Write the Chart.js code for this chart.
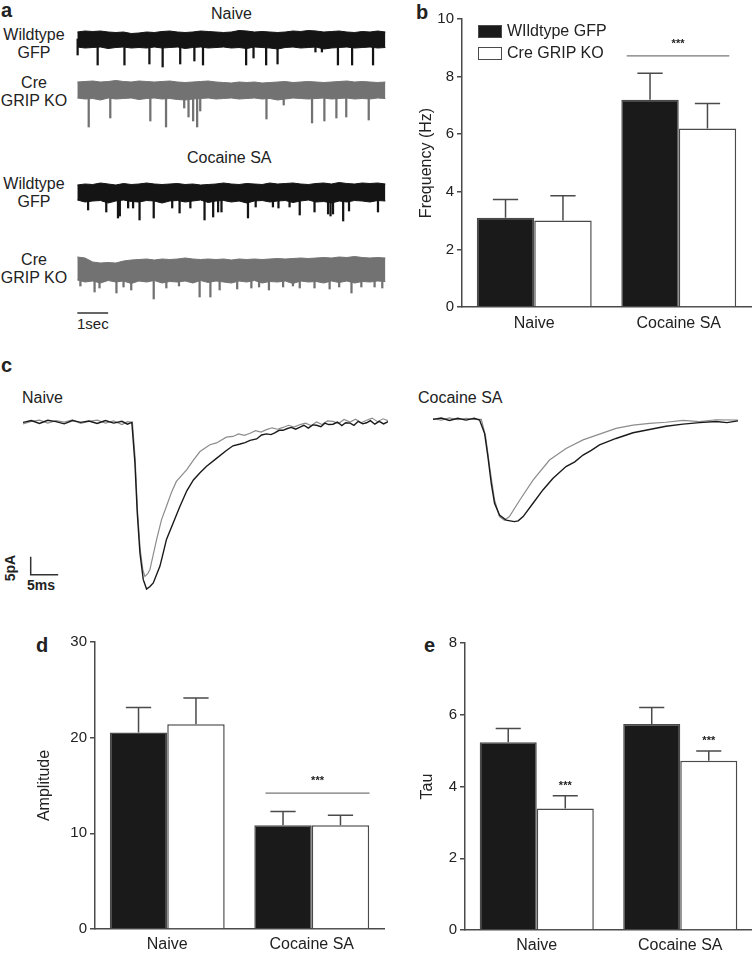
<!DOCTYPE html>
<html lang="en">
<head>
<meta charset="UTF-8">
<title>GRIP KO mEPSC figure</title>
<script src="https://cdn.jsdelivr.net/npm/chart.js"></script>
<style>
body { margin: 0; background: #fff; font-family: 'Liberation Sans', Arial, sans-serif; color: #222; }
#fig { position: relative; width: 752px; height: 953px; background: #fff; overflow: hidden; }
#fig canvas { position: absolute; }
.lbl { position: absolute; font-size: 16px; line-height: 18px; white-space: nowrap; }
.panel { position: absolute; font-size: 20px; font-weight: bold; line-height: 20px; }
.trace-name { position: absolute; left: 0; width: 68px; text-align: center; font-size: 16px; line-height: 18px; }
.key { position: absolute; left: 478px; width: 22px; height: 11px; border: 1.5px solid #4a4a4a; }
</style>
</head>
<body>
<div id="fig">
  <div class="panel" style="left:1px;top:0px">a</div>
  <div class="panel" style="left:416px;top:2px">b</div>
  <div class="panel" style="left:1px;top:355px">c</div>
  <div class="panel" style="left:36px;top:635px">d</div>
  <div class="panel" style="left:424px;top:635px">e</div>

  <!-- panel a -->
  <div class="lbl" style="left:211px;top:5px">Naive</div>
  <div class="lbl" style="left:187px;top:149px">Cocaine SA</div>
  <div class="trace-name" style="top:26px">Wildtype<br>GFP</div>
  <div class="trace-name" style="top:74px">Cre<br>GRIP KO</div>
  <div class="trace-name" style="top:175px">Wildtype<br>GFP</div>
  <div class="trace-name" style="top:251px">Cre<br>GRIP KO</div>
  <div class="lbl" style="left:77px;top:315px;font-size:15px">1sec</div>
  <canvas id="aNaiveWt" width="333" height="55" style="left:65px;top:24px"></canvas>
  <canvas id="aNaiveKo" width="333" height="55" style="left:65px;top:75px"></canvas>
  <canvas id="aCocWt" width="333" height="55" style="left:65px;top:177px"></canvas>
  <canvas id="aCocKo" width="333" height="75" style="left:65px;top:254px"></canvas>

  <!-- panel b -->
  <canvas id="bFreq" width="362" height="340" style="left:390px;top:0px"></canvas>
  <div class="key" style="top:25px;background:#1a1a1a"></div>
  <div class="key" style="top:47px;background:#fff"></div>
  <div class="lbl" style="left:507px;top:22px" id="key1"></div>
  <div class="lbl" style="left:507px;top:44px" id="key2"></div>

  <!-- panel c -->
  <div class="lbl" style="left:22px;top:389px">Naive</div>
  <div class="lbl" style="left:418px;top:389px">Cocaine SA</div>
  <div class="lbl" style="left:-3px;top:559px;font-size:14px;font-weight:bold;transform:rotate(-90deg)">5pA</div>
  <div class="lbl" style="left:27px;top:576px;font-size:14px;font-weight:bold">5ms</div>
  <canvas id="cNaive" width="365" height="194" style="left:23px;top:408px"></canvas>
  <canvas id="cCoc" width="305" height="194" style="left:433px;top:405px"></canvas>

  <!-- panels d, e -->
  <canvas id="dAmp" width="365" height="323" style="left:20px;top:630px"></canvas>
  <canvas id="eTau" width="362" height="323" style="left:390px;top:630px"></canvas>
</div>

<script>
// ---- bar chart data ----
const groups = ['Naive', 'Cocaine SA'];
const seriesNames = ['WIldtype GFP', 'Cre GRIP KO'];

const freqWt = [3.1, 7.2];
const freqWtErr = [0.63, 0.92];
const freqKo = [3.0, 6.2];
const freqKoErr = [0.86, 0.87];

const ampWt = [20.55, 10.85];
const ampWtErr = [2.6, 1.43];
const ampKo = [21.4, 10.85];
const ampKoErr = [2.75, 1.04];

const tauWt = [5.23, 5.74];
const tauWtErr = [0.39, 0.46];
const tauKo = [3.39, 4.72];
const tauKoErr = [0.35, 0.27];

// ---- panel a: raw traces (time in s, current in pA relative to baseline) ----
const bandT = [0,0.25,0.5,0.75,1,1.25,1.5,1.75,2,2.25,2.5,2.75,3,3.25,3.5,3.75,4,4.25,4.5,4.75,5,
               5.25,5.5,5.75,6,6.25,6.5,6.75,7,7.25,7.5,7.75,8,8.25,8.5,8.75,9,9.25,9.5,9.75,10];

const naiveWtTop = [7,8,7.5,8,7,6.5,7,5.5,6,7, 6.5,7.5,8,7,6.5,7,8,7.5,7,6.5, 7,8.5,8,7,7.5,7,6.5,7,8,7.5, 8.5,8,7,7.5,8,7,6.5,7.5,7,8, 7];
const naiveWtBot = [-8,-9,-8.5,-8,-9.5,-8.5,-8,-9,-8.5,-9, -8,-9,-8.5,-8,-9.5,-8.5,-8,-9,-8.5,-8, -9,-8.5,-9.5,-8,-8.5,-9,-10,-8.5,-8,-9, -8.5,-8,-10,-9,-8.5,-8,-9,-8.5,-8,-9, -8.5];
const naiveWtSpikeT = [0.01,0.66,1.53,2.34,2.77,3.34,3.80,4.08,5.48,5.72,6.13,6.50,7.73,7.94,8.46,8.92,9.60];
const naiveWtSpikeD = [-16,-26,-26,-25,-28,-25,-22,-26,-26,-19,-26,-25,-13,-13,-26,-26,-26];

const naiveKoTop = [8,8.5,9,8,8.5,9.5,8.5,8,9,8.5, 8,8.5,9,8,7.5,8,8.5,9,8,7.5, 7,8,7.5,8,7,7.5,8,8.5,7.5,8, 8.5,8,7.5,8,8.5,9,8,8.5,8,7.5, 8];
const naiveKoBot = [-8,-9,-8.5,-10,-8,-9,-8.5,-8,-9.5,-8.5, -8,-9,-8.5,-9.5,-10,-9,-8.5,-8,-9,-8.5, -8,-9,-8.5,-8,-9,-8.5,-10,-9,-8,-8.5, -9,-8.5,-8,-9,-8.5,-8,-9,-8.5,-9,-8, -8.5];
const naiveKoSpikeT = [0.37,1.07,2.37,2.88,3.47,3.61,3.76,3.89,3.99,6.14,6.70,7.62,8.02,8.41,8.73,9.46];
const naiveKoSpikeD = [-37,-28,-31,-37,-18,-27,-31,-37,-21,-29,-15,-33,-31,-28,-27,-30];

const cocWtTop = [7,8,7.5,9,8,7,8.5,7.5,8,9, 8,7.5,8,8.5,7.5,8,7,7.5,8,9, 8,7.5,8.5,8,7.5,9,8,8.5,9,8, 7.5,8.5,9,8,9.5,8.5,8,9,8.5,9, 8];
const cocWtBot = [-8,-10,-9,-8.5,-11,-9,-8,-9.5,-10,-8.5, -9,-11,-9,-8.5,-10,-9,-8,-10.5,-9,-8.5, -10,-9,-11,-9,-8.5,-10,-9,-8.5,-10.5,-9, -8,-10,-9.5,-11,-9,-10,-8.5,-9,-10,-8.5, -9];
const cocWtSpikeT = [0.35,0.94,1.32,1.38,1.65,1.81,2.02,2.48,3.08,3.32,3.67,4.13,4.41,4.57,4.68,5.54,5.79,6.35,6.53,6.89,7.22,7.70,8.14,8.22,8.30,8.63,8.82,9.76];
const cocWtSpikeD = [-18,-20,-26,-24,-16,-16,-28,-26,-16,-21,-16,-28,-25,-20,-20,-26,-15,-15,-16,-15,-23,-20,-22,-24,-22,-29,-19,-20];

const cocKoTop = [12,11,7,6,6.5,6,8,9,9.5,10, 9,10,9.5,10,11,10,9.5,10,9.5,10, 9,10,9.5,10,9.5,10,10.5,10,10.5,11, 10.5,11,11.5,11,12,11.5,12.5,11.5,11,11.5, 11];
const cocKoBot = [-11,-13,-12,-14,-11.5,-13,-12,-14.5,-12,-13, -11.5,-14,-12.5,-13,-12,-14,-11.5,-13.5,-12,-13, -14,-12,-13,-11.5,-14,-12.5,-13,-12,-14.5,-12, -13,-12.5,-14,-12,-13.5,-12,-14,-12.5,-13,-12, -12.5];
const cocKoSpikeT = [0.1,0.56,0.72,1.27,1.5,1.75,2.48,2.89,3.3,3.97,4.32,4.62,5.19,5.65,5.9,6.22,6.68,7.0,7.22,7.70,8.19,8.5,8.90,9.22,9.65,9.9];
const cocKoSpikeD = [-17,-23,-19,-24,-18,-21,-30,-19,-17,-28,-28,-21,-20,-19,-18,-21,-18,-17,-19,-19,-20,-18,-24,-18,-18,-19];

// ---- panel c: averaged events (time in ms, current in pA) ----
const cNaiveWtT = [0,1.5,3,4.5,6,7.5,9,10.5,12,13.5,15,16.5,18,19,19.8,20.36,20.79,21.27,21.88,22.48,
                   23.1,23.7,24.9,25.5,26.1,27.3,28.5,29.8,31.0,32.2,33.4,35.2,37.0,38.2,39.5,40.4,41.3,42.5,43.4,44.3,
                   45.1,45.8,46.6,47.3,48.1,48.8,49.6,50.4,51.1,51.9,52.7,53.4,54.2,54.9,55.6,56.4,57.2,58,58.7,59.5,
                   60.2,61,61.8,62.5,63.2,64,64.8,65.6,66.4];
const cNaiveWtI = [0,0.5,-0.3,0.6,0.2,-0.4,0.5,0,0.4,-0.3,0.5,-0.2,0.3,-0.5,0,-11.3,-25.2,-36.3,-43.7,-46.3,
                   -45.6,-44.6,-40,-36.3,-32.5,-28,-23.5,-19,-16,-14,-12.2,-10,-7.8,-6.5,-6.0,-5.6,-5.0,-4.6,-3.5,-3.2,
                   -3.4,-2.9,-2.2,-2.2,-1.7,-1.4,-1.9,-1.3,-0.8,-1.6,-0.7,-0.8,-1.2,-0.2,-0.6,-0.5,0.1,-0.9,-0.1,-0.2,
                   -0.8,0.3,-0.4,-0.1,0.5,-0.5,0.3,-0.4,0.2];
const cNaiveKoT = [0,1.5,3,4.5,6,7.5,9,10.5,12,13.5,15,16.5,18,19,19.9,20.4,20.8,21.3,21.8,22.18,
                   22.7,23.09,24.3,25.2,26.1,27.0,27.9,29.8,31.0,32.2,34.0,35.2,37.0,38.2,39.2,40.3,41.3,42.3,43.3,44.3,
                   45.3,46.3,47.3,48.3,49.3,50.4,51.4,52.4,53.4,54.4,55.4,56.4,57.4,58.4,59.5,60.5,61.5,62.5,63.5,64.5,
                   65.5,66.4];
const cNaiveKoI = [-0.4,0.3,0.6,-0.2,0.5,0.1,0.7,-0.3,0.3,0.6,-0.2,0.4,-0.6,0.2,0,-10,-24,-35,-41,-42.8,
                   -42,-40.9,-32.6,-27,-23.3,-19.5,-16.4,-13.1,-10.5,-8.1,-6.2,-5.7,-4.1,-3.9,-3.2,-3.6,-3.0,-2.3,-2.7,-2.0,
                   -1.5,-1.9,-1.4,-0.8,-1.3,-0.6,-0.2,-0.9,0.1,-0.6,0.4,0.3,-0.3,0.8,0.1,0.9,-0.1,0.6,1.2,0.2,
                   1.0,0.5];

const cCocWtT = [0,1.5,3,4.5,6,7.5,8.48,9.39,10.0,10.6,11.2,12.1,13.3,14.8,15.5,16.4,18.2,20.0,21.8,24.2,25.8,27.3,28.8,30.3,33.3,36.4,39.4,42.4,45.5,48.5,51.5,53.5,55.5];
const cCocWtI = [0,0.4,-0.3,0.3,-0.2,0.3,-0.2,-3.9,-10.4,-17.8,-23.3,-26.6,-28.0,-28.4,-28.2,-27.0,-23.3,-19.6,-16.4,-13.1,-11.8,-9.9,-8.6,-7.1,-5.3,-3.7,-2.8,-1.9,-1.3,-0.9,-0.6,-0.9,-0.4];
const cCocKoT = [0,1.5,3,4.5,6,7.5,8.79,9.58,10.3,11.2,12.1,13.0,13.9,15.8,18.2,21.2,24.2,27.3,30.3,33.3,36.4,39.4,42.4,45.5,48.5,51.5,55.5];
const cCocKoI = [0.2,-0.2,0.4,-0.1,0.3,0,0,-4.8,-13.1,-22.4,-27.0,-28.0,-27.0,-22.4,-16.9,-11.3,-8.1,-5.7,-4.1,-2.5,-1.6,-1.1,-0.8,-0.3,-0.6,-0.1,-0.2];

// ---- styling ----
const axisColor = '#4a4a4a';
const textColor = '#222';
const fontFamily = "'Liberation Sans', Arial, sans-serif";
Chart.defaults.font.family = fontFamily;
Chart.defaults.color = textColor;

document.getElementById('key1').textContent = seriesNames[0];
document.getElementById('key2').textContent = seriesNames[1];

const quiet = {
    responsive: false,
    animation: false,
    events: [],
    layout: { padding: 0 },
    plugins: { legend: { display: false }, tooltip: { enabled: false } }
};

// scale bar drawn with the chart's own scales
const scaleBarPlugin = {
    id: 'scaleBar',
    afterDatasetsDraw(chart, args, opts) {
        if (!opts || opts.t0 === undefined) return;
        const { ctx, scales: { x, y } } = chart;
        ctx.save();
        ctx.strokeStyle = '#333';
        ctx.lineWidth = 1.5;
        ctx.beginPath();
        ctx.moveTo(x.getPixelForValue(opts.t0), y.getPixelForValue(opts.i0 + (opts.di || 0)));
        ctx.lineTo(x.getPixelForValue(opts.t0), y.getPixelForValue(opts.i0));
        ctx.lineTo(x.getPixelForValue(opts.t0 + opts.dt), y.getPixelForValue(opts.i0));
        ctx.stroke();
        ctx.restore();
    }
};

function traceChart(id, top, bot, spikeT, spikeD, color, yMin, bar) {
    new Chart(document.getElementById(id), {
        type: 'line',
        data: {
            datasets: [
                { data: bandT.map((t, i) => ({ x: t, y: top[i] })), borderColor: color, backgroundColor: color,
                  borderWidth: 1, pointRadius: 0, tension: 0, fill: '+1' },
                { data: bandT.map((t, i) => ({ x: t, y: bot[i] })), borderColor: color,
                  borderWidth: 1, pointRadius: 0, tension: 0, fill: false },
                { type: 'bar', data: spikeT.map((t, i) => ({ x: t, y: [0, spikeD[i]] })),
                  backgroundColor: color, borderWidth: 0, barThickness: 1.6 }
            ]
        },
        options: {
            ...quiet,
            plugins: { ...quiet.plugins, scaleBar: bar || {} },
            scales: {
                x: { type: 'linear', min: -0.4, max: 10.41, display: false, offset: false },
                y: { min: yMin, max: 15, display: false }
            }
        },
        plugins: [scaleBarPlugin]
    });
}

traceChart('aNaiveWt', naiveWtTop, naiveWtBot, naiveWtSpikeT, naiveWtSpikeD, '#141414', -40);
traceChart('aNaiveKo', naiveKoTop, naiveKoBot, naiveKoSpikeT, naiveKoSpikeD, '#727272', -40);
traceChart('aCocWt', cocWtTop, cocWtBot, cocWtSpikeT, cocWtSpikeD, '#141414', -40);
traceChart('aCocKo', cocKoTop, cocKoBot, cocKoSpikeT, cocKoSpikeD, '#727272', -60, { t0: 0, dt: 1, i0: -44 });

function waveChart(id, wtT, wtI, koT, koI, xMax, bar) {
    new Chart(document.getElementById(id), {
        type: 'line',
        data: {
            datasets: [
                { data: wtT.map((t, i) => ({ x: t, y: wtI[i] })), borderColor: '#1a1a1a', borderWidth: 1.4, pointRadius: 0, tension: 0, fill: false },
                { data: koT.map((t, i) => ({ x: t, y: koI[i] })), borderColor: '#8c8c8c', borderWidth: 1.2, pointRadius: 0, tension: 0, fill: false }
            ]
        },
        options: {
            ...quiet,
            plugins: { ...quiet.plugins, scaleBar: bar || {} },
            scales: {
                x: { type: 'linear', min: 0, max: xMax, display: false },
                y: { min: -49.9, max: 4, display: false }
            }
        },
        plugins: [scaleBarPlugin]
    });
}

waveChart('cNaive', cNaiveWtT, cNaiveWtI, cNaiveKoT, cNaiveKoI, 66.4, { t0: 1.4, dt: 5, i0: -42.3, di: 5 });
waveChart('cCoc', cCocWtT, cCocWtI, cCocKoT, cCocKoI, 55.5);

// error bars, significance line and stars
const marksPlugin = {
    id: 'marks',
    afterDatasetsDraw(chart, args, opts) {
        const { ctx, scales: { x, y } } = chart;
        ctx.save();
        ctx.strokeStyle = axisColor;
        ctx.lineWidth = 1.5;
        chart.data.datasets.forEach((ds, di) => {
            chart.getDatasetMeta(di).data.forEach((bar, i) => {
                const yTop = y.getPixelForValue(ds.data[i] + ds.err[i]);
                const cap = bar.width * 0.22;
                ctx.beginPath();
                ctx.moveTo(bar.x, bar.y);
                ctx.lineTo(bar.x, yTop);
                ctx.moveTo(bar.x - cap, yTop);
                ctx.lineTo(bar.x + cap, yTop);
                ctx.stroke();
            });
        });
        ctx.fillStyle = textColor;
        ctx.font = 'bold 11px ' + fontFamily;
        ctx.textAlign = 'center';
        ctx.textBaseline = 'middle';
        if (opts.sig) {
            const s = opts.sig;
            const yl = y.getPixelForValue(s.y);
            const x1 = x.getPixelForValue(s.cat + s.from);
            const x2 = x.getPixelForValue(s.cat + s.to);
            ctx.strokeStyle = '#777';
            ctx.lineWidth = 1.2;
            ctx.beginPath();
            ctx.moveTo(x1, yl);
            ctx.lineTo(x2, yl);
            ctx.stroke();
            ctx.fillText('***', (x1 + x2) / 2, yl - 12);
        }
        (opts.stars || []).forEach(s => {
            const ds = chart.data.datasets[s.ds];
            const bar = chart.getDatasetMeta(s.ds).data[s.i];
            const yTop = y.getPixelForValue(ds.data[s.i] + ds.err[s.i]);
            ctx.fillText('***', bar.x, yTop - 10);
        });
        ctx.restore();
    }
};

function barChart(id, c) {
    return new Chart(document.getElementById(id), {
        type: 'bar',
        data: {
            labels: groups,
            datasets: [
                { label: seriesNames[0], data: c.wt, err: c.wtErr, backgroundColor: '#1a1a1a', borderColor: axisColor, borderWidth: 1.5,
                  categoryPercentage: 0.795, barPercentage: 1 },
                { label: seriesNames[1], data: c.ko, err: c.koErr, backgroundColor: '#ffffff', borderColor: axisColor, borderWidth: 1.5,
                  categoryPercentage: 0.795, barPercentage: 1 }
            ]
        },
        options: {
            ...quiet,
            layout: { padding: c.pad },
            plugins: { ...quiet.plugins, marks: c.marks },
            scales: {
                x: {
                    grid: { display: false, drawTicks: false },
                    border: { color: axisColor, width: 1.5 },
                    ticks: { color: textColor, font: { size: 16 }, padding: c.xPad },
                    afterFit: s => { s.height = c.xH; }
                },
                y: {
                    min: 0, max: c.max,
                    ticks: { stepSize: c.step, color: textColor, font: { size: 15 }, padding: 3 },
                    grid: { drawOnChartArea: false, color: axisColor, lineWidth: 1.5, tickLength: 5 },
                    border: { color: axisColor, width: 1.5 },
                    title: { display: true, text: c.title, color: textColor, font: { size: 16 }, padding: { top: c.titlePad, bottom: 0 } },
                    afterFit: s => { s.width = c.yW; }
                }
            }
        },
        plugins: [marksPlugin]
    });
}

barChart('bFreq', {
    wt: freqWt, wtErr: freqWtErr, ko: freqKo, koErr: freqKoErr,
    max: 10, step: 2, title: 'Frequency (Hz)', titlePad: 27,
    yW: 72, xH: 33, xPad: 7, pad: { top: 19, right: 1, left: 0, bottom: 0 },
    marks: { sig: { cat: 1, from: -0.36, to: 0.35, y: 8.72 } }
});

barChart('dAmp', {
    wt: ampWt, wtErr: ampWtErr, ko: ampKo, koErr: ampKoErr,
    max: 30, step: 10, title: 'Amplitude', titlePad: 15,
    yW: 75, xH: 24, xPad: 6, pad: { top: 12, right: 1, left: 0, bottom: 0 },
    marks: { sig: { cat: 1, from: -0.32, to: 0.40, y: 14.2 } }
});

barChart('eTau', {
    wt: tauWt, wtErr: tauWtErr, ko: tauKo, koErr: tauKoErr,
    max: 8, step: 2, title: 'Tau', titlePad: 28,
    yW: 75, xH: 23, xPad: 6, pad: { top: 13, right: 0, left: 0, bottom: 0 },
    marks: { stars: [{ ds: 1, i: 0 }, { ds: 1, i: 1 }] }
});
</script>
</body>
</html>
